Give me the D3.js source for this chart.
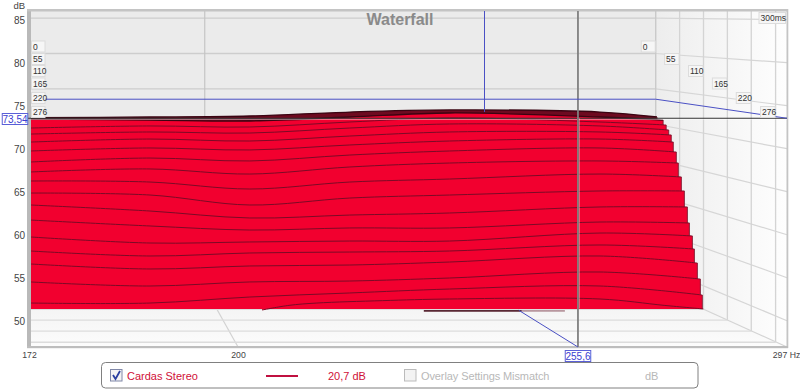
<!DOCTYPE html>
<html><head><meta charset="utf-8">
<script src="https://cdn.jsdelivr.net/npm/d3@7/dist/d3.min.js"></script>
<style>html,body{margin:0;padding:0;background:#fff;overflow:hidden}svg{display:block;font-family:"Liberation Sans",Arial,sans-serif}</style>
</head><body><svg id="c" width="800" height="390"></svg>
<script>
const dbTicks = [85,80,75,70,65,60,55,50];
const freqTicks = [172,200,297];
const timeTicks = [0,55,110,165,220,276];
const cursorFreq = 255.6, cursorDb = 73.54;
const seriesName = "Cardas Stereo", seriesSpan = "20,7 dB";
const overlayName = "Overlay Settings Mismatch", overlayUnit = "dB";
const title = "Waterfall";
// shared frequency knots (Hz, as read on the front axis)
const freqKnots = [172.2,187.7,201.7,216.8,233.0,259.7];
// level of each slice at those knots (dB, as read on the front axis), back to front
const sliceDb = [
 [73.74,73.80,73.92,74.38,74.62,74.38],
 [73.57,73.45,73.34,73.80,74.27,73.80],
 [72.52,72.76,72.64,73.22,73.69,73.22],
 [71.82,72.06,71.94,72.52,72.99,72.76],
 [70.89,71.24,71.01,71.59,72.06,72.06],
 [69.85,70.20,69.97,70.55,71.01,71.24],
 [68.57,69.03,68.69,69.38,69.85,70.20],
 [67.41,67.76,67.17,67.99,68.45,68.69],
 [66.36,66.24,65.43,66.24,66.59,67.17],
 [64.96,64.73,63.57,64.38,64.73,65.20],
 [63.57,62.87,62.06,62.40,62.64,63.34],
 [61.82,61.13,60.66,60.90,60.90,61.59],
 [59.85,59.15,59.27,59.38,59.38,60.31],
 [58.22,57.64,57.99,58.10,58.22,58.92],
 [56.71,56.13,56.48,56.59,56.94,57.64],
 [54.62,54.15,54.62,54.73,55.08,55.78],
 [52.17,52.17,52.87,53.34,53.80,54.15]
];
// where each slice stops, and its level there
const sliceEndFreq = [270.6,271.8,272.4,272.9,273.4,273.8,274.4,274.8,275.4,276.0,276.6,277.0,277.6,278.0,278.6,279.2,279.6];
const sliceEndDb = [73.80,73.45,72.87,72.29,71.71,70.89,69.73,68.45,66.83,65.20,63.34,61.48,59.97,58.45,56.82,54.96,53.10];
// last, partial slice
const lastFreq = [203.5,207.5,211.7,222.0,233.0,259.7,272.0,279.8];
const lastDb = [51.36,51.90,52.17,52.45,52.64,52.64,51.90,51.48];
const tailFreq = [228.7,245.4];
const tailEndFreq = 253.2;
const tailDb = [51.25,51.25];
const baseDb = 51.48;

const svg = d3.select("#c");
const x = d3.scaleLog().domain([172,297]).range([29,786]);
const y = d3.scaleLinear().domain([50,85]).range([321.7,20.7]);
const depth = d3.scaleLinear().domain([0,300]).range([0.823,1]);
const vx = 50, vy = 10.7, frontBottom = 347, gridShift = -1;
const px = (f,t) => vx + depth(t)*(x(f)-vx);
const py = (d,t) => vy + depth(t)*(y(d)+gridShift-vy);
const fy = t => vy + depth(t)*(frontBottom-vy);
const right = 297, wallTop = 11;

const defs = svg.append("defs");
function grad(id,x2,y2,stops){const g=defs.append("linearGradient").attr("id",id).attr("x1",0).attr("y1",0).attr("x2",x2).attr("y2",y2);
 stops.forEach(s=>g.append("stop").attr("offset",s[0]).attr("stop-color",s[1]));}
grad("wallR",1,0,[[0,"#ededed"],[1,"#fefefe"]]);
grad("floor",0,1,[[0,"#f0f0f0"],[1,"#fcfcfc"]]);
const poly = p => "M"+p.map(a=>a.join(",")).join("L")+"Z";

// walls
svg.append("rect").attr("x",31).attr("y",wallTop).attr("width",px(right,0)-31).attr("height",fy(0)-wallTop).attr("fill","#ebebeb");
svg.append("path").attr("d",poly([[px(right,0),wallTop],[787,wallTop],[787,frontBottom],[px(right,0),fy(0)]])).attr("fill","url(#wallR)");
svg.append("path").attr("d",poly([[31,fy(0)],[px(right,0),fy(0)],[787,frontBottom],[29,frontBottom]])).attr("fill","url(#floor)");

const grid = svg.append("g").attr("fill","none");
const seg = (a,b,c,w) => grid.append("line").attr("x1",a[0]).attr("y1",a[1]).attr("x2",b[0]).attr("y2",b[1]).attr("stroke",c).attr("stroke-width",w);
dbTicks.forEach(d=>{
  seg([31,py(d,0)],[px(right,0),py(d,0)],"#cdcdcd",1.4);
  seg([px(right,0),py(d,0)],[787,py(d,300)],"#d6d6d6",1.2);
});
seg([px(200,0),wallTop],[px(200,0),fy(0)],"#c4c4c4",1.2);
seg([px(right,0),wallTop],[px(right,0),fy(0)],"#c9c9c9",1.4);
seg([px(200,0),fy(0)],[x(200),frontBottom],"#d2d2d2",1.2);
seg([px(right,0),fy(0)],[787,frontBottom],"#d4d4d4",1.2);
timeTicks.slice(1).forEach(t=>{
  seg([px(right,t),wallTop],[px(right,t),fy(t)],"#d4d4d4",1.3);
  seg([29,fy(t)],[px(right,t),fy(t)],"#dcdcdc",1.3);
});

// blue cursor lines behind the slices
const blue = "#4a50c4";
const bl = svg.append("g").attr("stroke",blue).attr("stroke-width",1).attr("fill","none");
const bseg=(a,b)=>bl.append("line").attr("x1",a[0]).attr("y1",a[1]).attr("x2",b[0]).attr("y2",b[1]);
bseg([31,py(cursorDb,0)],[px(right,0),py(cursorDb,0)]);
bseg([px(right,0),py(cursorDb,0)],[787,py(cursorDb,300)]);
bseg([px(cursorFreq,0),wallTop],[px(cursorFreq,0),112]);

// slices
const curve = d3.curveCatmullRom.alpha(0.5);
const lineGen = d3.line().x(d=>x(d[0])).y(d=>y(d[1])).curve(curve);
const areaGen = d3.area().x(d=>x(d[0])).y0(y(baseDb)).y1(d=>y(d[1])).curve(curve);
const slices = sliceDb.map((vals,i)=>{
  const pts = freqKnots.map((f,k)=>[f,vals[k]]);
  pts.push([sliceEndFreq[i],sliceEndDb[i]]);
  return pts;
});
slices.push(lastFreq.map((f,k)=>[f,lastDb[k]]));
const sg = svg.append("g");
slices.forEach((pts,i)=>{
  sg.append("path").attr("d",areaGen(pts)).attr("fill",i===0?"#6e0a20":"#f2002f");
  const last = pts[pts.length-1];
  sg.append("path").attr("d",lineGen(pts)).attr("fill","none")
    .attr("stroke", i<2 ? "#3a0412" : "#7c0a26").attr("stroke-width", i<2 ? 1.3 : 1);
  sg.append("line").attr("x1",x(last[0])).attr("x2",x(last[0])).attr("y1",y(last[1])).attr("y2",y(baseDb))
    .attr("stroke","#7a1a30").attr("stroke-width",0.9);
});
sg.append("line").attr("x1",x(tailFreq[0])).attr("x2",x(tailEndFreq)).attr("y1",y(tailDb[0])).attr("y2",y(tailDb[0])).attr("stroke","#5c0a1e").attr("stroke-width",.7);
sg.append("path").attr("d",lineGen(tailFreq.map((f,k)=>[f,tailDb[k]]))).attr("fill","none").attr("stroke","#3a0412").attr("stroke-width",1.3);

// frame
svg.append("rect").attr("x",27).attr("y",9).attr("width",4).attr("height",339).attr("fill","#b9b9b9");
svg.append("rect").attr("x",27).attr("y",9).attr("width",761).attr("height",2.5).attr("fill","#c4c4c4");
svg.append("rect").attr("x",786.5).attr("y",9).attr("width",1.8).attr("height",339).attr("fill","#c4c4c4");
svg.append("rect").attr("x",27).attr("y",346).attr("width",761).attr("height",2.2).attr("fill","#bdbdbd");

// front cursor
const cy = y(cursorDb)+gridShift;
svg.append("line").attr("x1",31).attr("x2",787).attr("y1",cy+1).attr("y2",cy+1).attr("stroke","#fff").attr("stroke-opacity",.55);
svg.append("line").attr("x1",28).attr("x2",787).attr("y1",cy).attr("y2",cy).attr("stroke","#333").attr("stroke-width",1);
svg.append("line").attr("x1",x(cursorFreq)+1.4).attr("x2",x(cursorFreq)+1.4).attr("y1",cy).attr("y2",fy(0)+21).attr("stroke","#fff").attr("stroke-opacity",.4);
svg.append("line").attr("x1",x(cursorFreq)).attr("x2",x(cursorFreq)).attr("y1",wallTop).attr("y2",frontBottom).attr("stroke","#808080").attr("stroke-width",1.8);
bseg([px(cursorFreq,110),fy(110)+1],[x(cursorFreq),frontBottom]);
svg.append(()=>bl.node());

// time labels
const labelY = d3.scaleLinear().domain(timeTicks).range([46.5,59,71,83.5,98,112]);
const boxLabel = (tx,cyy,txt,w,anchorRight) => {
  const g = svg.append("g");
  const bx = anchorRight ? tx-w : tx;
  g.append("rect").attr("x",bx).attr("y",cyy-5.5).attr("width",w).attr("height",11).attr("fill","#f6f6f6").attr("stroke","#dcdcdc").attr("stroke-width",1);
  g.append("text").attr("x",bx+1.5).attr("y",cyy+3.2).attr("font-size",8.5).attr("fill","#333").text(txt);
};
timeTicks.forEach(t=>{
  boxLabel(31.5,labelY(t),String(t),13.5,false);
  boxLabel(px(right,t)-0.5,labelY(t),String(t),t===0?14:14.5,true);
});
boxLabel(785.5,18,"300ms",26.5,true);

// title
svg.append("text").attr("x",400).attr("y",24.5).attr("text-anchor","middle").attr("font-size",16).attr("font-weight","bold").attr("fill","#8a8a8a").text(title);

// axes
const axL = d3.axisLeft(y).tickValues(dbTicks).tickSize(0).tickPadding(0);
const gl = svg.append("g").attr("transform","translate(25,0)").call(axL);
gl.select(".domain").remove();
gl.selectAll("text").attr("font-size",10).attr("font-family","'Liberation Sans',Arial,sans-serif").attr("fill","#444");
svg.append("text").attr("x",25).attr("y",8.8).attr("text-anchor","end").attr("font-size",9.5).attr("fill","#444").text("dB");
const axB = d3.axisBottom(x).tickValues(freqTicks).tickSize(0).tickPadding(0).tickFormat(d=>d===297?"297 Hz":String(d));
const gb = svg.append("g").attr("transform","translate(0,351.5)").call(axB);
gb.select(".domain").remove();
gb.selectAll("text").attr("font-size",8.7).attr("font-family","'Liberation Sans',Arial,sans-serif").attr("fill","#444");

// cursor readouts
const readout = (cx,cyy,w,txt)=>{
  svg.append("rect").attr("x",cx-w/2).attr("y",cyy-5.5).attr("width",w).attr("height",11).attr("fill","#fff").attr("stroke","#5a60d8");
  svg.append("text").attr("x",cx).attr("y",cyy+3.7).attr("text-anchor","middle").attr("font-size",10).attr("fill","#3a40d0").text(txt);
};
const comma = d3.formatLocale({decimal:",",thousands:".",grouping:[3],currency:["",""]});
readout(15,119,25.5,comma.format(".2f")(cursorDb));
readout(578,356,25.5,comma.format(".1f")(cursorFreq));

// legend
const red = "#d01038";
svg.append("rect").attr("x",101.5).attr("y",362.5).attr("width",596.5).attr("height",25.5).attr("rx",4).attr("fill","#fff").attr("stroke","#808080");
const box = (bx,on)=>{
  svg.append("rect").attr("x",bx+.5).attr("y",369.5).attr("width",11.5).attr("height",11.5).attr("fill","#f3f3f3").attr("stroke",on?"#8088a8":"#bbb");
  if(on) svg.append("path").attr("d",`M${bx+3},${375}L${bx+5.5},${379}L${bx+10},${371}`).attr("fill","none").attr("stroke","#2a3fa0").attr("stroke-width",1.8);
};
box(110,true); box(404,false);
const lt=(tx,txt,c,ls)=>svg.append("text").attr("x",tx).attr("y",380).attr("font-size",11).attr("letter-spacing",ls).attr("fill",c).text(txt);
lt(127,seriesName,red,0);
svg.append("line").attr("x1",266).attr("x2",298).attr("y1",376).attr("y2",376).attr("stroke","#c01040").attr("stroke-width",2);
lt(328,seriesSpan,red,0);
lt(421,overlayName,"#b8b8b8",-0.1);
lt(645,overlayUnit,"#b8b8b8",0);
</script></body></html>
